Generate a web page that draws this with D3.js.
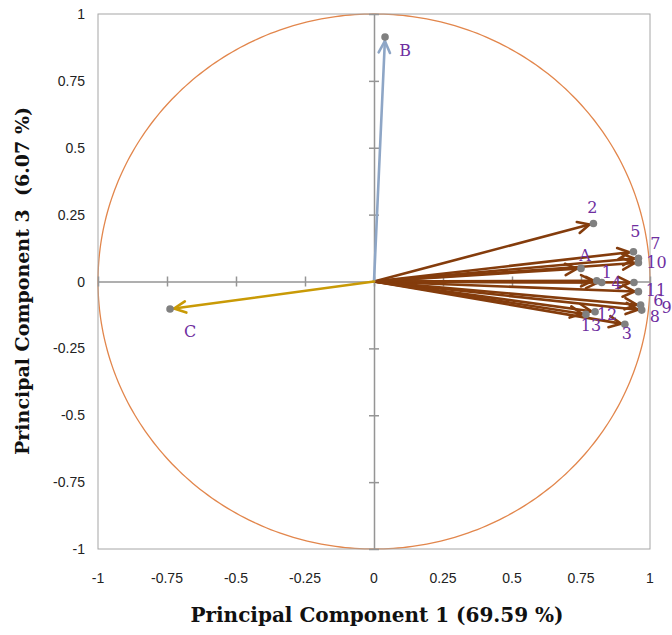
<!DOCTYPE html>
<html lang="en">
<head>
    <meta charset="UTF-8">
    <title>PCA loadings - PC1 vs PC3</title>
    <script src="https://d3js.org/d3.v7.min.js"></script>
    <style>
        body { margin: 0; background: #fff; }
    </style>
</head>
<body>
    <div id="chart"></div>

    <script>
        // loadings
        const varNames = ["1", "2", "3", "4", "5", "6", "7", "8", "9", "10", "11", "12", "13", "A", "B", "C"];
        const pc1 = [0.807, 0.795, 0.909, 0.825, 0.940, 0.958, 0.958, 0.970, 0.966, 0.958, 0.942, 0.801, 0.768, 0.750, 0.040, -0.739];
        const pc3 = [0.003, 0.217, -0.160, -0.004, 0.111, -0.038, 0.087, -0.107, -0.088, 0.070, -0.004, -0.113, -0.123, 0.049, 0.914, -0.103];
        const varGroup = ["v", "v", "v", "v", "v", "v", "v", "v", "v", "v", "v", "v", "v", "v", "B", "C"];
        const tickValues = [-1, -0.75, -0.5, -0.25, 0, 0.25, 0.5, 0.75, 1];

        const groupColor = { v: "#843c0c", B: "#8ea6c6", C: "#c99a06" };

        // where each name sits relative to its point (px)
        const labelShift = {
            "1": [10, -8], "2": [-1, -16], "3": [2, 9], "4": [15, 1], "5": [2, -20],
            "6": [20, 9], "7": [17, -15], "8": [13, 6], "9": [26, 2], "10": [18, 0],
            "11": [22, 8], "12": [12, 3], "13": [5, 11], "A": [4, -13], "B": [20, 13], "C": [20, 22]
        };

        const width = 672, height = 635;
        const x = d3.scaleLinear().domain([-1, 1]).range([98, 650]);
        const y = d3.scaleLinear().domain([-1, 1]).range([549, 14]);

        const svg = d3.select("#chart").append("svg")
            .attr("width", width)
            .attr("height", height);

        const data = varNames.map((name, i) => ({ name, x: pc1[i], y: pc3[i], group: varGroup[i] }));

        // correlation circle
        const circle = d3.range(0, 361).map(a => [Math.cos(a * Math.PI / 180), Math.sin(a * Math.PI / 180)]);
        svg.append("path")
            .datum(circle)
            .attr("d", d3.line().x(d => x(d[0])).y(d => y(d[1])))
            .style("fill", "none")
            .style("stroke", "#e2864c")
            .style("stroke-width", 1.3);

        // plot frame
        svg.append("rect")
            .attr("x", x(-1)).attr("y", y(1))
            .attr("width", x(1) - x(-1)).attr("height", y(-1) - y(1))
            .style("fill", "none")
            .style("stroke", "#a6a6a6")
            .style("stroke-width", 1);

        // zero axes with crossing ticks
        const xAxis = svg.append("g").attr("transform", "translate(0," + y(0) + ")")
            .call(d3.axisBottom(x).tickValues(tickValues).tickSizeInner(5).tickSizeOuter(0).tickFormat(""));
        xAxis.selectAll(".tick line").attr("y1", -5);
        const yAxis = svg.append("g").attr("transform", "translate(" + x(0) + ",0)")
            .call(d3.axisLeft(y).tickValues(tickValues).tickSizeInner(5).tickSizeOuter(0).tickFormat(""));
        yAxis.selectAll(".tick line").attr("x1", 5);
        svg.selectAll(".domain, .tick line")
            .style("stroke", "#959595")
            .style("stroke-width", 1.5);

        // tick labels on the frame edges
        svg.append("g").selectAll("text")
            .data(tickValues).join("text")
            .attr("x", d => x(d))
            .attr("y", 583)
            .attr("text-anchor", "middle")
            .style("font-family", "'Liberation Sans', Arial, sans-serif")
            .style("font-size", "14px")
            .style("fill", "#222")
            .text(d => String(d));
        svg.append("g").selectAll("text")
            .data(tickValues).join("text")
            .attr("x", 85)
            .attr("y", d => y(d) + 5)
            .attr("text-anchor", "end")
            .style("font-family", "'Liberation Sans', Arial, sans-serif")
            .style("font-size", "14px")
            .style("fill", "#222")
            .text(d => String(d));

        // axis titles
        svg.append("text")
            .attr("x", 377).attr("y", 622)
            .attr("text-anchor", "middle")
            .style("font-family", "'DejaVu Serif', serif")
            .style("font-weight", "bold")
            .style("font-size", "20px")
            .style("fill", "#111")
            .text("Principal Component 1 (69.59 %)");
        svg.append("text")
            .attr("transform", "translate(29,281) rotate(-90)")
            .attr("text-anchor", "middle")
            .style("font-family", "'DejaVu Serif', serif")
            .style("font-weight", "bold")
            .style("font-size", "19px")
            .style("fill", "#111")
            .style("white-space", "pre")
            .text("Principal Component 3  (6.07 %)");

        // arrows from the origin
        const head = 13, spread = 0.45;
        const arrows = svg.append("g");
        data.forEach(d => {
            const x0 = x(0), y0 = y(0), x1 = x(d.x), y1 = y(d.y);
            const ang = Math.atan2(y1 - y0, x1 - x0);
            const tx = x1 - 4 * Math.cos(ang), ty = y1 - 4 * Math.sin(ang);
            const g = arrows.append("g")
                .style("stroke", groupColor[d.group])
                .style("stroke-width", 2.6)
                .style("stroke-linecap", "round")
                .style("stroke-linejoin", "round")
                .style("fill", "none");
            g.append("line")
                .attr("x1", x0).attr("y1", y0)
                .attr("x2", tx).attr("y2", ty);
            g.append("path")
                .attr("d", d3.line()([
                    [tx - head * Math.cos(ang - spread), ty - head * Math.sin(ang - spread)],
                    [tx, ty],
                    [tx - head * Math.cos(ang + spread), ty - head * Math.sin(ang + spread)]
                ]));
        });

        // end points
        svg.append("g").selectAll("circle")
            .data(data).join("circle")
            .attr("cx", d => x(d.x))
            .attr("cy", d => y(d.y))
            .attr("r", 3.8)
            .style("fill", "#808080");

        // names
        svg.append("g").selectAll("text")
            .data(data).join("text")
            .attr("x", d => x(d.x) + labelShift[d.name][0])
            .attr("y", d => y(d.y) + labelShift[d.name][1])
            .attr("text-anchor", "middle")
            .attr("dominant-baseline", "central")
            .style("font-family", "'DejaVu Serif', serif")
            .style("font-size", "16px")
            .style("fill", "#6f2f9f")
            .text(d => d.name);
    </script>
</body>
</html>
